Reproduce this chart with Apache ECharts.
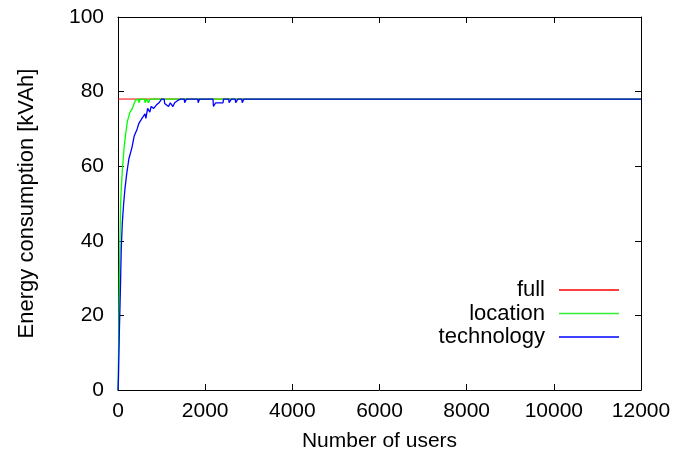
<!DOCTYPE html>
<html>
<head>
<meta charset="utf-8">
<script src="https://cdn.jsdelivr.net/npm/echarts@6/dist/echarts.min.js"></script>
<style>html,body{margin:0;padding:0;background:#fff}#c{width:693px;height:459px}</style>
</head>
<body>
<div id="c"></div>
<script>
var xTicks = [0, 2000, 4000, 6000, 8000, 10000, 12000];
var yTicks = [0, 20, 40, 60, 80, 100];
var seriesNames = ['full', 'location', 'technology'];

var fullUsers = [0, 12000];
var fullValues = [78, 78];

var locationUsers = [0, 10, 20, 30, 45, 60, 80, 100, 140, 180, 215, 275, 330, 370, 400, 420, 470, 480, 500, 510, 610, 620, 640, 650, 690, 700, 720, 730, 12000];
var locationValues = [0, 8, 18, 28, 40, 50, 55, 59, 65, 69, 72, 74.5, 75.5, 76.8, 77.7, 78, 78, 77, 77, 78, 78, 77, 77, 78, 78, 77, 77, 78, 78];

var techUsers = [0, 10, 30, 55, 75, 100, 130, 160, 200, 250, 320, 370, 440, 480, 560, 620, 640, 680, 730, 760, 820, 880, 940, 1000, 1060, 1070, 1080, 1160, 1200, 1260, 1300, 1380, 1440, 1520, 1530, 1560, 1570, 1830, 1840, 1860, 1870, 2180, 2190, 2230, 2240, 2410, 2420, 2540, 2550, 2590, 2600, 2690, 2700, 2740, 2750, 2840, 2850, 2880, 2890, 12000];
var techValues = [0, 3, 15, 27, 38, 45, 50, 54, 58, 62, 65, 68, 70, 71.5, 73, 74, 72.8, 75.5, 74.5, 76, 75.5, 76.4, 77, 78, 78, 76.8, 76.8, 76, 77, 76, 77, 77.7, 78, 78, 77, 77, 78, 78, 77, 77, 78, 78, 76, 76, 77, 77, 78, 78, 77, 77, 78, 78, 77, 77, 78, 78, 77, 77, 78, 78];

function pairs(xs, ys) { return xs.map(function (x, i) { return [x, ys[i]]; }); }

var font = 'Liberation Sans, Arial, Helvetica, sans-serif';
var fs = 21;
var chart = echarts.init(document.getElementById('c'), null, { renderer: 'canvas' });

var axisLineStyle = { color: '#000', width: 1 };
chart.setOption({
  animation: false,
  backgroundColor: '#fff',
  grid: { left: 118, right: 52, top: 17, bottom: 69, containLabel: false },
  legend: {
    orient: 'vertical',
    align: 'right',
    right: 69,
    top: 274,
    itemWidth: 60,
    itemHeight: 1.5,
    itemGap: 1.5,
    icon: 'rect',
    data: seriesNames.map(function (n) { return { name: n }; }),
    textStyle: { fontFamily: font, fontSize: 22, color: '#000', lineHeight: 22, padding: [0, 9, 0, 0] }
  },
  xAxis: [{
    type: 'value', min: 0, max: 12000, interval: 2000,
    name: 'Number of users', nameLocation: 'middle', nameGap: 41,
    nameTextStyle: { fontFamily: font, fontSize: fs, color: '#000' },
    axisLine: { show: true, onZero: false, lineStyle: axisLineStyle },
    axisTick: { show: true, inside: true, length: 6, lineStyle: axisLineStyle },
    axisLabel: { fontFamily: font, fontSize: fs, color: '#000', margin: 11,
      formatter: function (v) { return xTicks.indexOf(v) >= 0 ? String(v) : ''; } },
    splitLine: { show: false }
  }, {
    type: 'value', min: 0, max: 12000, interval: 2000, position: 'top',
    axisLine: { show: true, onZero: false, lineStyle: axisLineStyle },
    axisTick: { show: true, inside: true, length: 6, lineStyle: axisLineStyle },
    axisLabel: { show: false }, splitLine: { show: false }
  }],
  yAxis: [{
    type: 'value', min: 0, max: 100, interval: 20,
    name: 'Energy consumption [kVAh]', nameLocation: 'middle', nameGap: 80, nameRotate: 90,
    nameTextStyle: { fontFamily: font, fontSize: 22, color: '#000' },
    axisLine: { show: true, onZero: false, lineStyle: axisLineStyle },
    axisTick: { show: true, inside: true, length: 6, lineStyle: axisLineStyle },
    axisLabel: { fontFamily: font, fontSize: fs, color: '#000', margin: 14,
      formatter: function (v) { return yTicks.indexOf(v) >= 0 ? String(v) : ''; } },
    splitLine: { show: false }
  }, {
    type: 'value', min: 0, max: 100, interval: 20, position: 'right',
    axisLine: { show: true, onZero: false, lineStyle: axisLineStyle },
    axisTick: { show: true, inside: true, length: 6, lineStyle: axisLineStyle },
    axisLabel: { show: false }, splitLine: { show: false }
  }],
  series: [
    { name: seriesNames[0], type: 'line', data: pairs(fullUsers, fullValues), symbol: 'none',
      lineStyle: { color: '#ff0000', width: 1 }, itemStyle: { color: '#ff0000' } },
    { name: seriesNames[1], type: 'line', data: pairs(locationUsers, locationValues), symbol: 'none',
      lineStyle: { color: '#00ff00', width: 1.3 }, itemStyle: { color: '#33ee33' } },
    { name: seriesNames[2], type: 'line', data: pairs(techUsers, techValues), symbol: 'none',
      lineStyle: { color: '#0000ff', width: 1.3 }, itemStyle: { color: '#0000ff' } }
  ]
});
</script>
</body>
</html>
